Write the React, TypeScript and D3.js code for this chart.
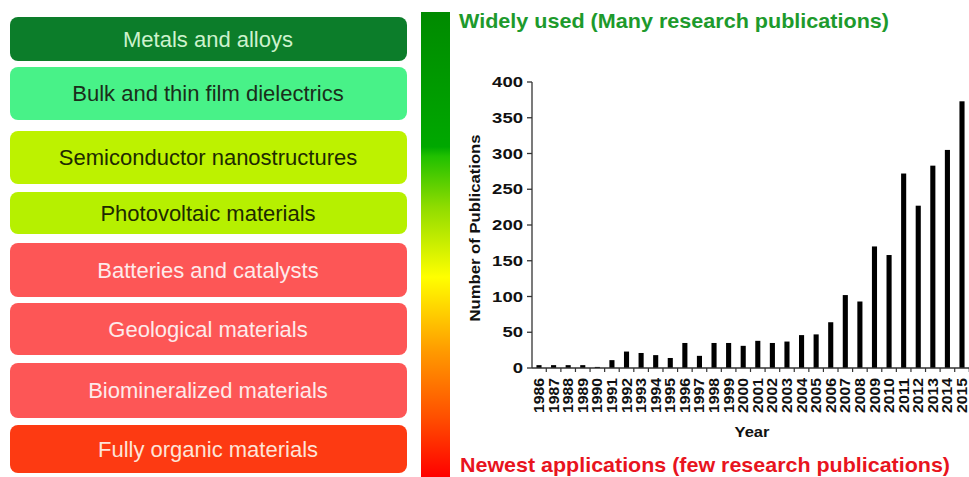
import React from "react";
import * as d3 from "d3";

const materials = [
  "Metals and alloys",
  "Bulk and thin film dielectrics",
  "Semiconductor nanostructures",
  "Photovoltaic materials",
  "Batteries and catalysts",
  "Geological materials",
  "Biomineralized materials",
  "Fully organic materials",
];
const boxFill = ["#0c7d2a", "#48f288", "#bdf200", "#b6f000", "#fd5656", "#fd5656", "#fd5656", "#fd3a12"];
const boxText = ["#cdf2cd", "#1a2e1a", "#1e2a00", "#1e2a00", "#fdeaea", "#fdeaea", "#fdeaea", "#fde4d8"];
const boxTops = [17, 67, 131, 192, 243, 303, 363, 425];
const boxBottoms = [61, 120, 184, 234, 297, 355, 418, 473];

const years = [
  "1986", "1987", "1988", "1989", "1990", "1991", "1992", "1993", "1994", "1995",
  "1996", "1997", "1998", "1999", "2000", "2001", "2002", "2003", "2004", "2005",
  "2006", "2007", "2008", "2009", "2010", "2011", "2012", "2013", "2014", "2015",
];
const publications = [
  4, 4, 4, 4, 1.5, 11, 23, 21, 18, 14,
  35, 17, 35, 35, 31, 38, 35, 37, 46, 47,
  64, 102, 93, 170, 158, 272, 227, 283, 305, 373,
];
const yTicks = [0, 50, 100, 150, 200, 250, 300, 350, 400];

const topLabel = "Widely used (Many research publications)";
const bottomLabel = "Newest applications (few research publications)";

const FONT = "'Liberation Sans', Arial, Helvetica, sans-serif";

export default function App() {
  const W = 969;
  const H = 477;
  const x = d3
    .scaleBand<string>()
    .domain(years)
    .range([532, 969])
    .paddingInner(0.65)
    .paddingOuter(0.305);
  const y = d3.scaleLinear().domain([0, 400]).range([368, 82]);
  const step = x.step();
  const bw = x.bandwidth();
  const axisColor = "#333";

  return (
    <svg
      width={W}
      height={H}
      style={{ position: "absolute", left: 0, top: 0, background: "#fff" }}
      fontFamily={FONT}
    >
      <defs>
        <linearGradient id="heat" x1="0" y1="0" x2="0" y2="1">
          <stop offset="0%" stopColor="#008a00" />
          <stop offset="29%" stopColor="#00a800" />
          <stop offset="31%" stopColor="#20c000" />
          <stop offset="42%" stopColor="#90dc00" />
          <stop offset="57%" stopColor="#ffff00" />
          <stop offset="73%" stopColor="#ff9a00" />
          <stop offset="87%" stopColor="#ff5000" />
          <stop offset="100%" stopColor="#ff0000" />
        </linearGradient>
      </defs>

      {materials.map((m, i) => (
        <g key={m}>
          <rect
            x={10}
            y={boxTops[i]}
            width={397}
            height={boxBottoms[i] - boxTops[i]}
            rx={8}
            ry={8}
            fill={boxFill[i]}
          />
          <text
            x={208}
            y={(boxTops[i] + boxBottoms[i]) / 2}
            dy="0.36em"
            textAnchor="middle"
            fontSize={22}
            fill={boxText[i]}
          >
            {m}
          </text>
        </g>
      ))}

      <rect x={421} y={12} width={29} height={H - 12} fill="url(#heat)" />

      <text x={459} y={28} fontSize={21} fontWeight="bold" fill="#1d9a2c" textLength={430} lengthAdjust="spacingAndGlyphs">
        {topLabel}
      </text>
      <text x={460} y={472} fontSize={21} fontWeight="bold" fill="#e8141e" textLength={490} lengthAdjust="spacingAndGlyphs">
        {bottomLabel}
      </text>

      {/* bars */}
      {years.map((yr, i) => (
        <rect
          key={yr}
          x={x(yr)!}
          y={y(publications[i])}
          width={bw}
          height={y(0) - y(publications[i])}
          fill="#000"
        />
      ))}

      {/* y axis */}
      <line x1={532} x2={532} y1={y(400)} y2={y(0)} stroke={axisColor} strokeWidth={1.3} />
      {yTicks.map((t) => (
        <g key={t}>
          <line x1={527} x2={532} y1={y(t)} y2={y(t)} stroke={axisColor} strokeWidth={1.3} />
          <text
            x={523}
            y={y(t)}
            dy="0.36em"
            textAnchor="end"
            fontSize={14}
            fontWeight="bold"
            fill="#111"
            textLength={String(t).length * 10.3}
            lengthAdjust="spacingAndGlyphs"
          >
            {t}
          </text>
        </g>
      ))}
      <text
        transform={`translate(480,${(y(0) + y(400)) / 2 + 3}) rotate(-90)`}
        textAnchor="middle"
        fontSize={14}
        fontWeight="bold"
        fill="#111"
        textLength={187}
        lengthAdjust="spacingAndGlyphs"
      >
        Number of Publications
      </text>

      {/* x axis */}
      <line x1={532} x2={969} y1={y(0)} y2={y(0)} stroke={axisColor} strokeWidth={1.3} />
      {years.map((yr) => (
        <line
          key={"t" + yr}
          x1={x(yr)! + bw / 2 + step / 2}
          x2={x(yr)! + bw / 2 + step / 2}
          y1={y(0)}
          y2={y(0) + 4}
          stroke={axisColor}
          strokeWidth={1.2}
        />
      ))}
      {years.map((yr) => (
        <text
          key={"l" + yr}
          transform={`translate(${x(yr)! + bw / 2},378) rotate(-90)`}
          dy="0.36em"
          textAnchor="end"
          fontSize={14}
          fontWeight="bold"
          fill="#111"
          textLength={35}
          lengthAdjust="spacingAndGlyphs"
        >
          {yr}
        </text>
      ))}
      <text x={752} y={437} textAnchor="middle" fontSize={14} fontWeight="bold" fill="#111" textLength={35} lengthAdjust="spacingAndGlyphs">
        Year
      </text>
    </svg>
  );
}
